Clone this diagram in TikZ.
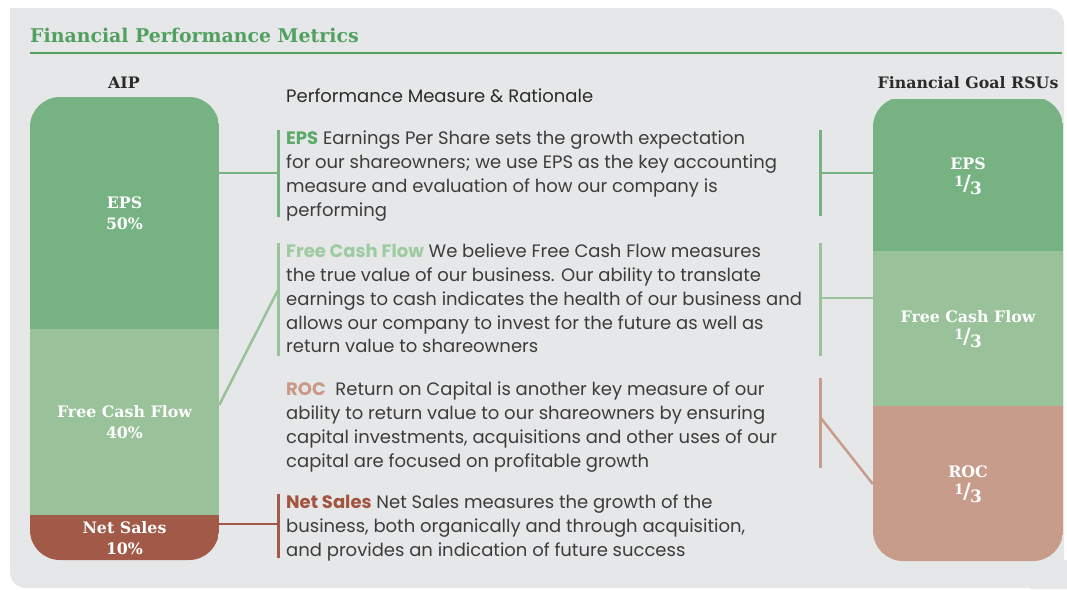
\documentclass[tikz,border=0pt]{standalone}
\usepackage{fontspec}
\setmainfont{Poppins}
\newfontfamily\slabfont{DejaVu Serif}
\usepackage{xcolor}
\definecolor{bggray}{HTML}{E6E7E8}
\definecolor{titlegreen}{HTML}{52A060}
\definecolor{epsgreen}{HTML}{77B382}
\definecolor{fcfgreen}{HTML}{99C29A}
\definecolor{salesred}{HTML}{A25A48}
\definecolor{roctan}{HTML}{C89C8B}
\definecolor{bodygray}{HTML}{3C3C3C}
\definecolor{headgray}{HTML}{2B2B2B}
\definecolor{epslabel}{HTML}{5BAA67}
\definecolor{fcflabel}{HTML}{9DCBA0}
\definecolor{roclabel}{HTML}{C99886}
\definecolor{saleslabel}{HTML}{A4533F}
\newcommand{\onethird}{\raisebox{.45ex}{\fontsize{14}{14}\selectfont 1}\kern-.04em{\fontsize{21}{21}\selectfont/}\kern-.04em\raisebox{-.45ex}{\fontsize{17}{17}\selectfont 3}}
\tikzset{
  seg/.style={inner sep=0, minimum width=189, align=center, text=white,
    font=\slabfont\bfseries\fontsize{15.8}{21}\selectfont},
  head/.style={anchor=base, text=headgray, font=\slabfont\bfseries\fontsize{15.8}{18}\selectfont},
  rationale/.style={anchor=north west, inner sep=0, align=left, text=bodygray,
    font=\fontsize{18}{23.7}\selectfont},
  bar/.style={line width=3pt},
  link/.style={line width=2.5pt}
}
\begin{document}
\begin{tikzpicture}[x=1pt,y=-1pt]
  \useasboundingbox (0,0) rectangle (1067,589);
  % panel
  \fill[bggray,rounded corners=16] (10,8) rectangle (1064,588);
  \fill[bggray] (10,8) rectangle (40,40);
  \fill[bggray] (1030,560) rectangle (1067,589);

  % title
  \node[anchor=base west, inner sep=0, text=titlegreen,
    font=\slabfont\bfseries\fontsize{18.9}{22}\selectfont] (title) at (30,42) {Financial Performance Metrics};
  \draw[titlegreen, line width=1.5pt] (30,53) -- (1062,53);

  % column heads
  \node[head] (aipHead) at (124,88) {AIP};
  \node[head] (rsuHead) at (968,88) {Financial Goal RSUs};
  \node[rationale, text=headgray] (measHead) at (286,89) {Performance Measure \& Rationale};

  % AIP column
  \begin{scope}
    \clip[rounded corners=30] (30,97) rectangle (219,560);
    \node[seg, fill=epsgreen, minimum height=233] (aipEPS) at (124.5,213) {EPS\\50\%};
    \node[seg, fill=fcfgreen, minimum height=187] (aipFCF) at (124.5,422) {Free Cash Flow\\40\%};
    \node[seg, fill=salesred, minimum height=46] (aipSales) at (124.5,538) {Net Sales\\10\%};
  \end{scope}

  % Financial Goal RSUs column
  \begin{scope}
    \clip[rounded corners=30] (873,97) rectangle (1063,561);
    \node[seg, fill=epsgreen, minimum width=190, minimum height=155] (rsuEPS) at (968,176) {EPS\\\onethird};
    \node[seg, fill=fcfgreen, minimum width=190, minimum height=156] (rsuFCF) at (968,329) {Free Cash Flow\\\onethird};
    \node[seg, fill=roctan, minimum width=190, minimum height=156] (rsuROC) at (968,484) {ROC\\\onethird};
  \end{scope}

  % rationale texts
  \node[rationale] (epsTxt) at (286,131) {{\color{epslabel}\bfseries EPS} Earnings Per Share sets the growth expectation\\for our shareowners; we use EPS as the key accounting\\measure and evaluation of how our company is\\performing};
  \node[rationale] (fcfTxt) at (286,244) {{\color{fcflabel}\bfseries Free Cash Flow} We believe Free Cash Flow measures\\the true value of our business. Our ability to translate\\earnings to cash indicates the health of our business and\\allows our company to invest for the future as well as\\return value to shareowners};
  \node[rationale] (rocTxt) at (286,382) {{\color{roclabel}\bfseries ROC}\ \ Return on Capital is another key measure of our\\ability to return value to our shareowners by ensuring\\capital investments, acquisitions and other uses of our\\capital are focused on profitable growth};
  \node[rationale] (salesTxt) at (286,495) {{\color{saleslabel}\bfseries Net Sales} Net Sales measures the growth of the\\business, both organically and through acquisition,\\and provides an indication of future success};

  % left bars
  \coordinate (epsL) at (278,173);
  \coordinate (fcfL) at (278,290);
  \coordinate (salesL) at (278,524);
  \draw[bar, epsgreen] (278,130) -- (278,217);
  \draw[bar, fcfgreen] (278,243) -- (278,356);
  \draw[bar, salesred] (278,494) -- (278,558);

  % right bars
  \coordinate (epsR) at (820,173);
  \coordinate (fcfR) at (820,298);
  \coordinate (rocR) at (820,417);
  \draw[bar, epsgreen] (820,130) -- (820,216);
  \draw[bar, fcfgreen] (820,243) -- (820,356);
  \draw[bar, roctan] (820,378) -- (820,468);

  % connectors
  \draw[link, epsgreen] (aipEPS.east |- epsL) -- (epsL);
  \draw[link, fcfgreen] ([yshift=17pt]aipFCF.east) -- (fcfL);
  \draw[link, salesred] (aipSales.east |- salesL) -- (salesL);
  \draw[link, epsgreen] (epsR) -- (rsuEPS.west |- epsR);
  \draw[link, fcfgreen] (fcfR) -- (rsuFCF.west |- fcfR);
  \draw[link, roctan] (rocR) -- (rsuROC.west);
\end{tikzpicture}
\end{document}
